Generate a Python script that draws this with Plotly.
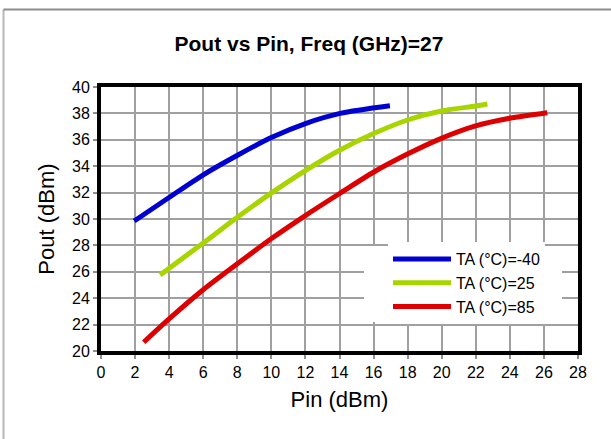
import plotly.graph_objects as go

# ---- data ----
pin_m40 = [1.95, 3.93, 5.98, 8.04, 10.03, 12.04, 14.03, 16.96]
pout_m40 = [29.85, 31.57, 33.33, 34.85, 36.19, 37.25, 38.0, 38.58]

pin_25 = [3.47, 5.98, 8.04, 10.03, 12.04, 14.03, 16.04, 17.99, 19.98, 21.99, 22.68]
pout_25 = [25.76, 28.16, 30.17, 32.0, 33.71, 35.23, 36.49, 37.5, 38.18, 38.56, 38.71]

pin_85 = [2.51, 3.93, 5.98, 8.04, 10.03, 12.04, 14.03, 16.04, 17.99, 19.98, 21.99, 23.98, 26.2]
pout_85 = [20.66, 22.35, 24.62, 26.64, 28.54, 30.3, 31.95, 33.58, 34.92, 36.11, 37.05, 37.63, 38.05]

series_names = ["TA (°C)=-40", "TA (°C)=25", "TA (°C)=85"]
series_colors = ["#0000d0", "#a8d400", "#dd0000"]

x_ticks = list(range(0, 29, 2))
y_ticks = list(range(20, 41, 2))

FONT = "Liberation Sans, Arial, sans-serif"

fig = go.Figure()
for xs, ys, name, col in zip([pin_m40, pin_25, pin_85],
                             [pout_m40, pout_25, pout_85],
                             series_names, series_colors):
    fig.add_trace(go.Scatter(x=xs, y=ys, mode="lines", name=name,
                             line=dict(color=col, width=5, shape="spline", smoothing=0.8)))

W, H = 611, 439
L, R, T, B = 101, 33, 87, 88
pw, ph = W - L - R, H - T - B

def px2paper_x(px):
    return (px - L) / pw

def py2paper_y(py):
    return (H - B - py) / ph

axis_common = dict(
    showline=True, linecolor="black", linewidth=4, mirror=True,
    showgrid=True, gridcolor="#a0a0a0", gridwidth=2.2,
    zeroline=False,
    ticks="outside", ticklen=4, tickwidth=1.5, tickcolor="#909090",
    tickfont=dict(family=FONT, size=16, color="black"),
)

fig.update_xaxes(range=[0, 28], tickvals=x_ticks, **axis_common,
                 title=dict(text="Pin (dBm)", font=dict(family=FONT, size=22, color="black"),
                            standoff=12))
fig.update_yaxes(range=[20, 40], tickvals=y_ticks, **axis_common,
                 title=dict(text="Pout (dBm)", font=dict(family=FONT, size=22, color="black"),
                            standoff=12))

fig.update_layout(
    width=W, height=H,
    margin=dict(l=L, r=R, t=T, b=B, autoexpand=False),
    paper_bgcolor="white", plot_bgcolor="white",
    title=dict(text="Pout vs Pin, Freq (GHz)=27",
               font=dict(family=FONT, size=21, color="black", weight="bold"),
               x=px2paper_x(309), xref="paper", xanchor="center",
               y=1 - 44 / H, yref="container", yanchor="middle"),
    legend=dict(x=px2paper_x(388), y=py2paper_y(242), xanchor="left", yanchor="top",
                bgcolor="white", borderwidth=0, itemwidth=58,
                font=dict(family=FONT, size=16, color="black")),
    showlegend=True,
)

# white backdrop of the legend area (hides gridlines; no curves pass here)
fig.add_shape(type="rect", xref="paper", yref="paper", layer="above",
              x0=px2paper_x(364), x1=px2paper_x(562), y0=py2paper_y(322), y1=py2paper_y(246),
              fillcolor="white", line=dict(width=0))

# outer chart-area frame (cut off at right/bottom in the reference)
fig.add_shape(type="line", xref="paper", yref="paper",
              x0=px2paper_x(3.5), x1=px2paper_x(3.5), y0=py2paper_y(9.5), y1=py2paper_y(460),
              line=dict(color="#b8b8b8", width=2))
fig.add_shape(type="line", xref="paper", yref="paper",
              x0=px2paper_x(3.5), x1=px2paper_x(640), y0=py2paper_y(9.5), y1=py2paper_y(9.5),
              line=dict(color="#8c8c8c", width=2))

fig.write_html("out.html")
